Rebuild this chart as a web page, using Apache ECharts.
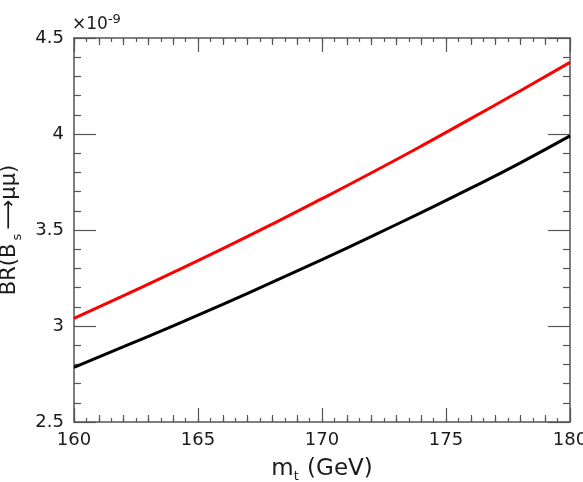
<!DOCTYPE html>
<html>
<head>
<meta charset="utf-8">
<script src="https://cdn.jsdelivr.net/npm/echarts@6/dist/echarts.min.js"></script>
<style>
  html, body { margin: 0; padding: 0; background: #fff; }
  #chart { width: 583px; height: 482px; }
</style>
</head>
<body>
<div id="chart"></div>
<script>
// top mass (GeV)
var mtValues = [160, 162, 164, 166, 168, 170, 172, 174, 176, 178, 180];
// BR(Bs -> mu mu) in units of 1e-9
var brRed   = [3.040, 3.158, 3.279, 3.403, 3.531, 3.663, 3.798, 3.937, 4.080, 4.225, 4.373];
var brBlack = [2.785, 2.892, 3.001, 3.113, 3.228, 3.346, 3.467, 3.591, 3.718, 3.850, 3.990];
var xTicks = [160, 165, 170, 175, 180];
var yTicks = [2.5, 3, 3.5, 4, 4.5];

function pairs(xs, ys) {
    var out = [];
    for (var i = 0; i < xs.length; i++) out.push([xs[i], ys[i]]);
    return out;
}

var font = 'DejaVu Sans';
var frame = '#555';
var ink = '#1a1a1a';

function xAx(pos, step, len, minorLen, showLabel) {
    return {
        type: 'value', position: pos, min: xTicks[0], max: xTicks[xTicks.length - 1],
        interval: step,
        axisLine: { show: true, lineStyle: { color: frame, width: 1.5 } },
        axisTick: { inside: true, length: len, lineStyle: { color: frame, width: 1.2 } },
        minorTick: { show: minorLen > 0, splitNumber: 5, length: minorLen, lineStyle: { color: frame, width: 1.2 } },
        axisLabel: { show: showLabel, fontSize: 18, color: ink, fontFamily: font, margin: 9 },
        splitLine: { show: false }
    };
}
function yAx(pos, showLabel) {
    return {
        type: 'value', position: pos, min: yTicks[0], max: yTicks[yTicks.length - 1],
        interval: 0.5,
        axisLine: { show: true, lineStyle: { color: frame, width: 1.5 } },
        axisTick: { inside: true, length: 22, lineStyle: { color: frame, width: 1.2 } },
        minorTick: { show: true, splitNumber: 5, length: 7, lineStyle: { color: frame, width: 1.2 } },
        axisLabel: { show: showLabel, fontSize: 18, color: ink, fontFamily: font, margin: 10 },
        splitLine: { show: false }
    };
}

var xMain = xAx('bottom', 5, 14, 7, true);
xMain.name = 'm{sub|t} (GeV)';
xMain.nameLocation = 'middle';
xMain.nameGap = 34;
xMain.nameTextStyle = {
    fontSize: 23, color: ink, fontFamily: font,
    rich: { sub: { fontSize: 13, color: ink, fontFamily: font, padding: [14, 1, 0, 0] } }
};
var xFine = xAx('bottom', 0.5, 4, 0, false);
xFine.axisLine.show = false;
var xTop = xAx('top', 5, 14, 7, false);
var xTopFine = xAx('top', 0.5, 4, 0, false);
xTopFine.axisLine.show = false;

var yMain = yAx('left', true);
yMain.name = 'BR(B{sub|s}{arr|\u27f6}\u03bc\u03bc)';
yMain.nameLocation = 'middle';
yMain.nameRotate = 90;
yMain.nameGap = 50;
yMain.nameTextStyle = {
    fontSize: 21, color: ink, fontFamily: font,
    rich: {
        sub: { fontSize: 13, color: ink, fontFamily: font, padding: [16, 4, 0, 3] },
        arr: { fontSize: 21, color: ink, fontFamily: font }
    }
};
var yRight = yAx('right', false);

var chart = echarts.init(document.getElementById('chart'), null, { renderer: 'canvas' });
chart.setOption({
    animation: false,
    backgroundColor: '#fff',
    grid: { left: 74, top: 38, right: 13, bottom: 60, containLabel: false, outerBoundsMode: 'none' },
    graphic: [
        {
            type: 'text', left: 72, top: 13,
            style: {
                text: '\u00d710{sup|-9}',
                fill: ink, fontSize: 17, fontFamily: font,
                rich: { sup: { fontSize: 13, fill: ink, fontFamily: font, padding: [0, 0, 10, 0] } }
            }
        }
    ],
    xAxis: [xMain, xFine, xTop, xTopFine],
    yAxis: [yMain, yRight],
    series: [
        {
            type: 'line', xAxisIndex: 0, yAxisIndex: 0, smooth: true, showSymbol: false,
            data: pairs(mtValues, brRed),
            lineStyle: { color: '#f00', width: 3 }
        },
        {
            type: 'line', xAxisIndex: 0, yAxisIndex: 0, smooth: true, showSymbol: false,
            data: pairs(mtValues, brBlack),
            lineStyle: { color: '#000', width: 3 }
        }
    ]
});
</script>
</body>
</html>
